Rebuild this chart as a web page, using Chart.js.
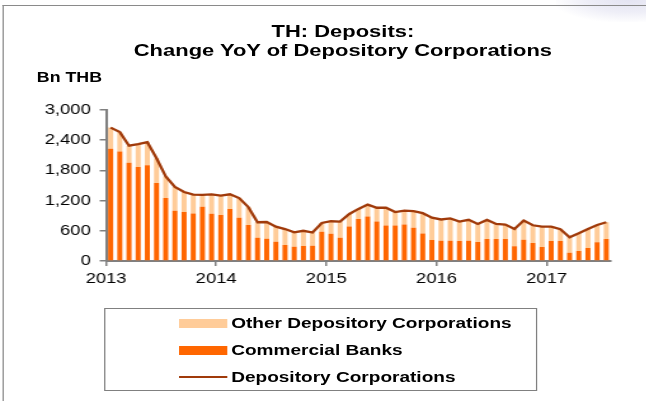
<!DOCTYPE html>
<html>
<head>
<meta charset="utf-8">
<script src="https://cdn.jsdelivr.net/npm/chart.js@4/dist/chart.umd.min.js"></script>
<style>
  html, body { margin: 0; padding: 0; background: #fff; }
  body { width: 646px; height: 401px; overflow: hidden; position: relative; font-family: "Liberation Sans", Arial, sans-serif; }
  #corner { position: absolute; right: 0; top: 0; width: 90px; height: 22px;
    background: radial-gradient(ellipse at 80% 0%, #e4e4f2 0%, #eeeef7 40%, rgba(255,255,255,0) 75%); }
  #wrap { position: absolute; left: 0; top: 0; width: 509px; height: 401px; transform: scaleX(1.27); transform-origin: 0 0; }
  #topline { position: absolute; left: 2px; top: 5px; width: 507px; height: 0; border-top: 1.5px solid #8a8a8a; }
  #leftline { position: absolute; left: 1.5px; top: 5px; width: 0; height: 396px; border-left: 1.5px solid #8a8a8a; }
  #title { position: absolute; left: 0; top: 22px; width: 540px; text-align: center; font-weight: bold; font-size: 17.3px; line-height: 19px; color: #000; }
  #unit { position: absolute; left: 29px; top: 69px; font-weight: bold; font-size: 14px; color: #000; }
  #box { position: absolute; left: 0; top: 0; width: 509px; height: 300px; }
  #legend { position: absolute; left: 82px; top: 308px; width: 341px; height: 83px; border: 1.5px solid #808080; box-sizing: border-box; }
  .item { position: absolute; left: 0; height: 18px; font-weight: bold; font-size: 15px; line-height: 18px; color: #000; }
  .item span.sw { position: absolute; left: 58px; top: 5px; width: 38px; height: 9px; }
  .item span.tx { position: absolute; left: 99px; top: 0; white-space: nowrap; }
</style>
</head>
<body>
<div id="corner"></div>
<div id="wrap">
  <div id="topline"></div>
  <div id="leftline"></div>
  <div id="title">TH: Deposits:<br>Change YoY of Depository Corporations</div>
  <div id="unit">Bn THB</div>
  <div id="box"><canvas id="depChart"></canvas></div>
  <div id="legend">
    <div class="item" style="top:5px"><span class="sw" style="background:#ffcc99"></span><span class="tx">Other Depository Corporations</span></div>
    <div class="item" style="top:32px"><span class="sw" style="background:#ff6600"></span><span class="tx">Commercial Banks</span></div>
    <div class="item" style="top:59px"><span class="sw" style="top:8px;height:2px;background:#a03a0a"></span><span class="tx">Depository Corporations</span></div>
  </div>
</div>
<script>
// MONTHS Jan 2013 - Jul 2017
const months = [];
for (let y = 2013; y <= 2017; y++) {
  for (let m = 1; m <= 12; m++) {
    if (months.length < 55) months.push(y + "-" + String(m).padStart(2, "0"));
  }
}
const yearLabels = ["2013", "2014", "2015", "2016", "2017"];

// Bn THB, change YoY
const commercialBanks = [
  2230, 2175, 1950, 1870, 1900, 1550, 1250, 1000, 975, 945, 1080, 940,
  915, 1035, 860, 716, 460, 440, 384, 320, 282, 300, 303, 580,
  540, 464, 683, 836, 882, 783, 703, 703, 723, 663, 544, 418,
  404, 400, 398, 404, 378, 438, 438, 438, 292, 424, 358, 278,
  398, 398, 166, 199, 259, 372, 438
];
const otherDepository = [
  420, 385, 340, 450, 460, 490, 430, 470, 395, 375, 235, 385,
  385, 290, 390, 354, 310, 335, 299, 315, 289, 300, 262, 175,
  250, 319, 252, 199, 239, 275, 357, 269, 279, 327, 406, 442,
  421, 445, 385, 415, 358, 378, 298, 285, 345, 379, 352, 405,
  285, 232, 305, 352, 378, 344, 332
];
const depositoryCorps = [
  2650, 2560, 2290, 2320, 2360, 2040, 1680, 1470, 1370, 1320, 1315, 1325,
  1300, 1325, 1250, 1070, 770, 775, 683, 635, 571, 600, 565, 755,
  790, 783, 935, 1035, 1121, 1058, 1060, 972, 1002, 990, 950, 860,
  825, 845, 783, 819, 736, 816, 736, 723, 637, 803, 710, 683,
  683, 630, 471, 551, 637, 716, 770
];

const isJan = i => months[i] !== undefined && months[i].endsWith("-01");
const axisGray = "#808080";

new Chart(document.getElementById("depChart"), {
  type: "bar",
  data: {
    labels: months,
    datasets: [
      {
        type: "line",
        label: "Depository Corporations",
        data: depositoryCorps,
        borderColor: "#a03a0a",
        borderWidth: 2.3,
        pointRadius: 0,
        tension: 0,
        stack: "total",
        order: 0
      },
      {
        label: "Commercial Banks",
        data: commercialBanks,
        backgroundColor: "#ff6600",
        stack: "dep",
        order: 1
      },
      {
        label: "Other Depository Corporations",
        data: otherDepository,
        backgroundColor: "#ffcc99",
        stack: "dep",
        order: 1
      }
    ]
  },
  options: {
    responsive: true,
    maintainAspectRatio: false,
    animation: false,
    categoryPercentage: 1,
    barPercentage: 0.55,
    layout: { padding: { left: 13.5, right: 28, top: 110, bottom: 0 } },
    plugins: { legend: { display: false }, title: { display: false }, tooltip: { enabled: false } },
    scales: {
      x: {
        stacked: true,
        afterFit: s => { s.height = 39; },
        border: { display: true, color: axisGray, width: 2 },
        grid: {
          offset: true,
          drawOnChartArea: false,
          tickLength: 5,
          color: ctx => isJan(ctx.index) ? axisGray : "rgba(0,0,0,0)",
          lineWidth: 1.5
        },
        ticks: {
          autoSkip: false,
          maxRotation: 0,
          padding: 4,
          labelOffset: -3.6,
          color: "#000",
          font: { family: "Liberation Sans", size: 14.5 },
          callback: (v, i) => isJan(i) ? yearLabels[Number(months[i].slice(0, 4)) - 2013] : ""
        }
      },
      y: {
        stacked: true,
        min: 0,
        max: 3000,
        afterFit: s => { s.width = 70; },
        border: { display: true, color: axisGray, width: 2 },
        grid: { drawOnChartArea: false, tickLength: 5, color: axisGray, lineWidth: 1.5 },
        ticks: {
          stepSize: 600,
          padding: 7,
          color: "#000",
          font: { family: "Liberation Sans", size: 14.5 },
          callback: v => v.toLocaleString("en-US")
        }
      }
    }
  }
});
</script>
</body>
</html>
